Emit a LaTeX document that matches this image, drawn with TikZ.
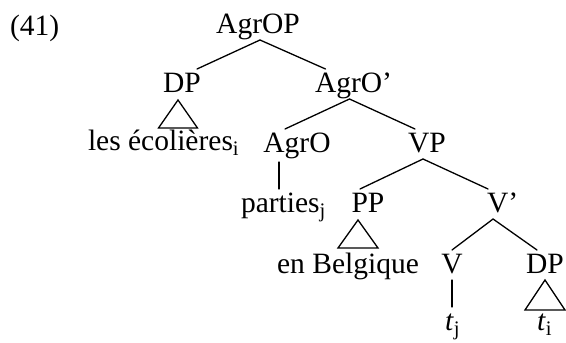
\documentclass[tikz,border=0pt]{standalone}
\usepackage{fontspec}
\setmainfont{Liberation Serif}
\begin{document}
\begin{tikzpicture}[x=1pt,y=-1pt,
  lbl/.style={inner sep=0pt,outer sep=0pt,text height=23pt,text depth=7pt,
              font=\fontsize{29.5}{34}\selectfont},
  edge/.style={line width=1.3pt,line cap=round,line join=miter},
]
\useasboundingbox (0,0) rectangle (566,343);

% example number
\node[lbl,anchor=base west] (num) at (10,35) {(41)};

% tree labels
\node[lbl,anchor=base] (agrop) at (258,33) {AgrOP};
\node[lbl,anchor=base] (dpa) at (182,92) {DP};
\node[lbl,anchor=base west] (agrobar) at (315,92) {AgrO’};
\node[lbl,anchor=base west] (ecol) at (88,150) {les écolières\textsubscript{i}};
\node[lbl,anchor=base] (agro) at (297,152) {AgrO};
\node[lbl,anchor=base] (vp) at (427,152) {VP};
\node[lbl,anchor=base west] (parties) at (241,212) {parties\textsubscript{j}};
\node[lbl,anchor=base] (pp) at (368,212) {PP};
\node[lbl,anchor=base west] (vbar) at (487,212) {V’};
\node[lbl,anchor=base] (belg) at (348,273) {en Belgique};
\node[lbl,anchor=base] (v) at (452,273) {V};
\node[lbl,anchor=base] (dpb) at (545,273) {DP};
\node[lbl,anchor=base west] (tj) at (445,330) {\textit{t}\textsubscript{j}};
\node[lbl,anchor=base west] (ti) at (537,330) {\textit{t}\textsubscript{i}};

% branches
\draw[edge] ([xshift=2pt]agrop.south) -- ([xshift=15pt]dpa.north);
\draw[edge] ([xshift=2pt]agrop.south) -- ([xshift=-28pt]agrobar.north);
\draw[edge] ([xshift=-4pt]agrobar.south) -- ([xshift=-12pt]agro.north);
\draw[edge] ([xshift=-4pt]agrobar.south) -- ([xshift=-12pt]vp.north);
\draw[edge] ([xshift=-4pt]vp.south) -- ([xshift=-8pt]pp.north);
\draw[edge] ([xshift=-4pt]vp.south) -- ([xshift=-14.5pt]vbar.north);
\draw[edge] ([xshift=-9.5pt]vbar.south) -- (v.north);
\draw[edge] ([xshift=-9.5pt]vbar.south) -- ([xshift=-8pt]dpb.north);

% unary branches
\draw[edge] ([xshift=-18pt,yshift=-3pt]agro.south) -- ([xshift=-18pt]agro.south |- parties.north);
\draw[edge] (v.south) -- (v.south |- tj.north);

% roofs
\draw[edge] ([xshift=-4pt,yshift=-1pt]dpa.south) -- ++(-19.5,28) -- ++(39,0) -- cycle;
\draw[edge] ([xshift=-10pt,yshift=-1pt]pp.south) -- ++(-20,28) -- ++(40,0) -- cycle;
\draw[edge] (dpb.south) -- ++(-20,30) -- ++(40,0) -- cycle;
\end{tikzpicture}
\end{document}
